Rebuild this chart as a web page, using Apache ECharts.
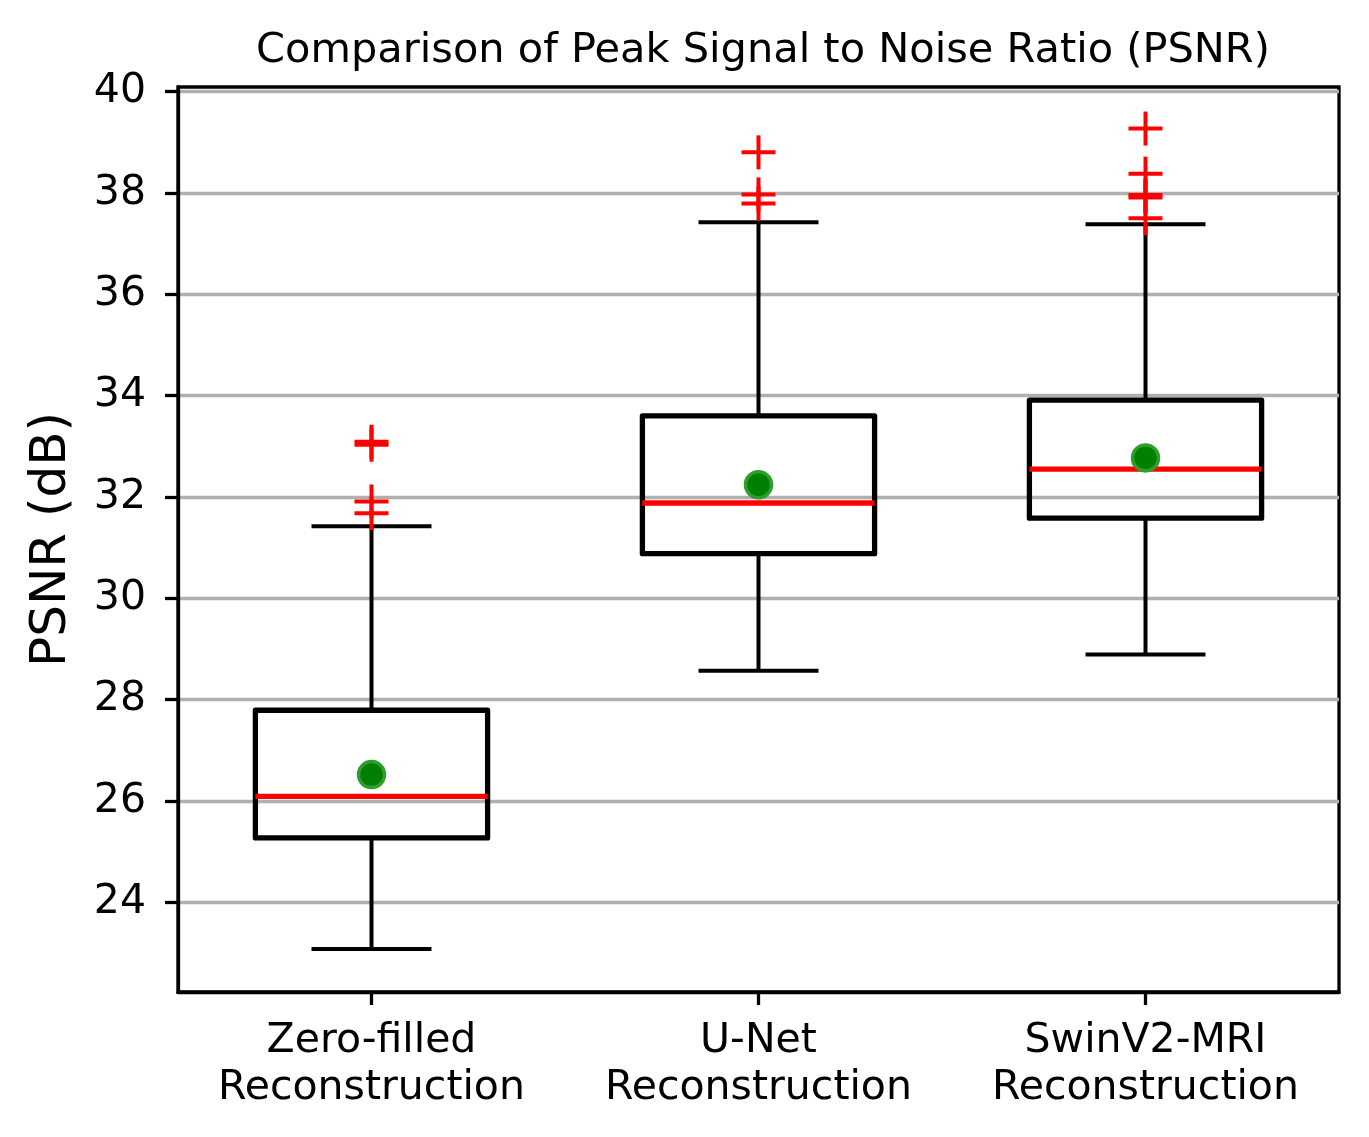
<!DOCTYPE html>
<html>
<head>
<meta charset="utf-8">
<script src="https://cdn.jsdelivr.net/npm/echarts@6/dist/echarts.min.js"></script>
<style>html,body{margin:0;padding:0;background:#fff}#c{width:1369px;height:1137px}</style>
</head>
<body>
<div id="c"></div>
<script>
const categories = ['Zero-filled\nReconstruction', 'U-Net\nReconstruction', 'SwinV2-MRI\nReconstruction'];
const whiskerLow = [23.08, 28.57, 28.89];
const q1 = [25.27, 30.88, 31.58];
const median = [26.09, 31.88, 32.55];
const q3 = [27.79, 33.60, 33.91];
const whiskerHigh = [31.42, 37.42, 37.38];
const means = [26.52, 32.24, 32.77];
const outliersZero = [33.03, 33.09, 31.91, 31.68];
const outliersUNet = [38.80, 37.97, 37.79];
const outliersSwin = [39.27, 38.38, 37.96, 37.91, 37.50];
const yTicks = [24, 26, 28, 30, 32, 34, 36, 38, 40];

const boxData = categories.map((c, i) => [i, whiskerLow[i], q1[i], median[i], q3[i], whiskerHigh[i]]);
const meanData = means.map((m, i) => [i, m]);
const outlierData = [];
[outliersZero, outliersUNet, outliersSwin].forEach((arr, i) => arr.forEach(v => outlierData.push([i, v])));

const FONT = 'DejaVu Sans';
const chart = echarts.init(document.getElementById('c'), null, {renderer: 'canvas'});
chart.setOption({
  animation: false,
  backgroundColor: '#fff',
  title: {
    text: 'Comparison of Peak Signal to Noise Ratio (PSNR)',
    left: 758, top: 25, textAlign: 'center',
    textStyle: {fontFamily: FONT, fontSize: 41.5, fontWeight: 'normal', color: '#000'}
  },
  grid: {left: 178, right: 30, top: 87, bottom: 145, show: true, borderColor: '#000', borderWidth: 3.3, backgroundColor: 'transparent'},
  xAxis: {
    type: 'category', data: categories, boundaryGap: true,
    axisLine: {show: true, lineStyle: {color: '#000', width: 3.3}},
    axisTick: {show: true, alignWithLabel: true, length: 13, lineStyle: {color: '#000', width: 3.3}},
    axisLabel: {fontFamily: FONT, fontSize: 41, color: '#000', margin: 26, lineHeight: 47, interval: 0, hideOverlap: false},
    splitLine: {show: false}
  },
  yAxis: {
    type: 'value', min: 22.23, max: 40.09,
    name: 'PSNR (dB)', nameLocation: 'middle', nameGap: 101,
    nameTextStyle: {fontFamily: FONT, fontSize: 50, color: '#000'},
    axisLine: {show: true, lineStyle: {color: '#000', width: 3.3}},
    axisTick: {show: true, length: 13, customValues: yTicks, lineStyle: {color: '#000', width: 3.3}},
    axisLabel: {fontFamily: FONT, fontSize: 41, color: '#000', margin: 32, customValues: yTicks},
    splitLine: {show: true, lineStyle: {color: '#b0b0b0', width: 3.3}}
  },
  series: [
    {
      type: 'custom', data: boxData, z: 3,
      encode: {x: 0, y: [1, 2, 3, 4, 5]},
      renderItem: function (params, api) {
        const x = api.value(0);
        const band = api.size([1, 0])[0];
        const bw = band * 0.6, cw = band * 0.31;
        const cx = api.coord([x, 0])[0];
        const yl = api.coord([x, api.value(1)])[1];
        const y1 = api.coord([x, api.value(2)])[1];
        const ym = api.coord([x, api.value(3)])[1];
        const y3 = api.coord([x, api.value(4)])[1];
        const yh = api.coord([x, api.value(5)])[1];
        const wStyle = {stroke: '#000', lineWidth: 4, fill: null};
        return {
          type: 'group',
          children: [
            {type: 'line', shape: {x1: cx, y1: y1, x2: cx, y2: yl}, style: wStyle},
            {type: 'line', shape: {x1: cx, y1: y3, x2: cx, y2: yh}, style: wStyle},
            {type: 'line', shape: {x1: cx - cw / 2, y1: yl, x2: cx + cw / 2, y2: yl}, style: wStyle},
            {type: 'line', shape: {x1: cx - cw / 2, y1: yh, x2: cx + cw / 2, y2: yh}, style: wStyle},
            {type: 'rect', shape: {x: cx - bw / 2, y: y3, width: bw, height: y1 - y3},
              style: {stroke: '#000', lineWidth: 5.3, fill: null, lineJoin: 'round'}},
            {type: 'line', shape: {x1: cx - bw / 2, y1: ym, x2: cx + bw / 2, y2: ym},
              style: {stroke: '#ff0000', lineWidth: 5.3}}
          ]
        };
      }
    },
    {
      type: 'scatter', data: meanData, z: 5, symbol: 'circle', symbolSize: 26,
      itemStyle: {color: '#007f00', borderColor: '#2e9e2e', borderWidth: 3.5, opacity: 1}
    },
    {
      type: 'custom', data: outlierData, z: 6,
      encode: {x: 0, y: 1},
      renderItem: function (params, api) {
        const p = api.coord([api.value(0), api.value(1)]);
        const h = 17;
        const st = {stroke: '#ff0000', lineWidth: 4};
        return {
          type: 'group',
          children: [
            {type: 'line', shape: {x1: p[0] - h, y1: p[1], x2: p[0] + h, y2: p[1]}, style: st},
            {type: 'line', shape: {x1: p[0], y1: p[1] - h, x2: p[0], y2: p[1] + h}, style: st}
          ]
        };
      }
    }
  ]
});
</script>
</body>
</html>
